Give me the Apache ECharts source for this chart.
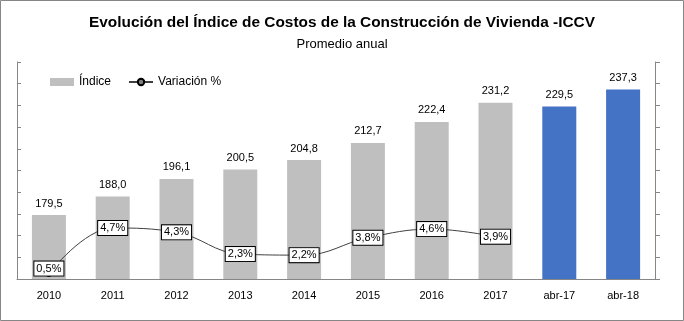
<!DOCTYPE html>
<html>
<head>
<meta charset="utf-8">
<script src="https://cdn.jsdelivr.net/npm/echarts@6/dist/echarts.min.js"></script>
<style>
html,body{margin:0;padding:0;background:#fff;}
#chart{width:684px;height:321px;}
</style>
</head>
<body>
<div id="chart"></div>
<script>
const categories = ['2010','2011','2012','2013','2014','2015','2016','2017','abr-17','abr-18'];
const indice = [179.5, 188.0, 196.1, 200.5, 204.8, 212.7, 222.4, 231.2, 229.5, 237.3];
const variacion = [0.5, 4.7, 4.3, 2.3, 2.2, 3.8, 4.6, 3.9, null, null];
const highlighted = ['abr-17','abr-18'];

const fmt = v => v.toFixed(1).replace('.', ',');
const FONT = 'Liberation Sans, Arial, sans-serif';

const chart = echarts.init(document.getElementById('chart'));
chart.setOption({
  animation: false,
  title: [
    {text: 'Evolución del Índice de Costos de la Construcción de Vivienda -ICCV', left: 'center', top: 10,
     padding: [5, 5, 5, 21],
     textStyle: {fontFamily: FONT, fontWeight: 'bold', fontSize: 15.4, color: '#000'}},
    {text: 'Promedio anual', left: 'center', top: 33,
     padding: [5, 5, 5, 21],
     textStyle: {fontFamily: FONT, fontWeight: 'normal', fontSize: 13, color: '#000'}}
  ],
  legend: {
    left: 45, top: 71, itemGap: 17, itemWidth: 24, itemHeight: 8,
    textStyle: {fontFamily: FONT, fontSize: 12, color: '#000'},
    data: [{name: 'Índice', icon: 'rect'}, {name: 'Variación %'}]
  },
  graphic: [{type: 'rect', shape: {x: 0.5, y: 0.5, width: 683, height: 320}, style: {fill: 'none', stroke: '#868686', lineWidth: 1}, silent: true}],
  grid: {left: 17, right: 29, top: 62, bottom: 42},
  xAxis: {
    type: 'category', data: categories,
    axisLine: {lineStyle: {color: '#868686'}},
    axisTick: {show: false},
    axisLabel: {fontFamily: FONT, fontSize: 11, color: '#000', margin: 11}
  },
  yAxis: [
    {type: 'value', min: 150, max: 250, interval: 10, splitLine: {show: false},
     axisLine: {show: true, lineStyle: {color: '#868686'}},
     axisTick: {show: true, inside: true, length: 4, lineStyle: {color: '#868686'}},
     axisLabel: {show: false}},
    {type: 'value', min: 0, max: 20, interval: 2, splitLine: {show: false},
     axisLine: {show: true, lineStyle: {color: '#868686'}},
     axisTick: {show: true, length: 5, lineStyle: {color: '#868686'}},
     axisLabel: {show: false}}
  ],
  series: [
    {name: 'Índice', type: 'bar', barWidth: 34, yAxisIndex: 0,
     itemStyle: {color: '#BFBFBF'},
     data: indice.map((v, i) => ({value: v, itemStyle: {color: highlighted.includes(categories[i]) ? '#4472C4' : '#BFBFBF'}})),
     label: {show: true, position: 'top', distance: 6, fontFamily: FONT, fontSize: 11, color: '#000', formatter: p => fmt(p.value)}},
    {name: 'Variación %', type: 'line', yAxisIndex: 1, smooth: 0.4,
     symbol: 'circle', symbolSize: 6,
     lineStyle: {color: '#404040', width: 1},
     itemStyle: {color: '#7F7F7F', borderColor: '#000', borderWidth: 1},
     data: variacion.map((v, i) => i === 0 ? {value: v, label: {offset: [0, -5]}} : v),
     label: {show: true, position: 'inside', fontFamily: FONT, fontSize: 11, color: '#000',
       backgroundColor: '#fff', borderColor: '#000', borderWidth: 1, padding: [2, 2, 1, 2],
       formatter: p => fmt(p.value) + '%'}}
  ]
});
</script>
</body>
</html>
